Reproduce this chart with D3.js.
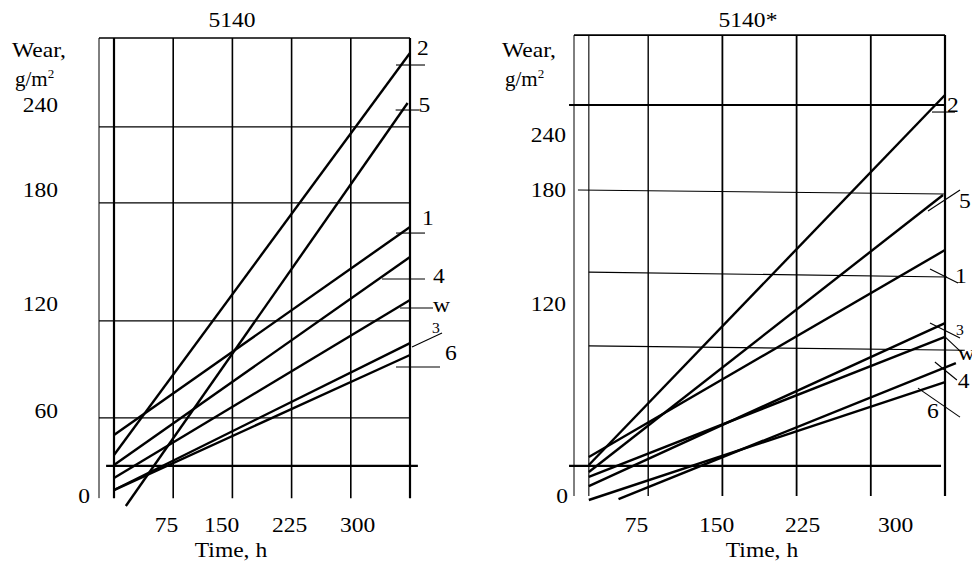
<!DOCTYPE html>
<meta charset="utf-8">
<style>
  body { margin: 0; background: #fff; }
  text { font: 21px "Liberation Serif", "Times New Roman", serif; fill: #000; }
  text.small { font-size: 14px; }
</style>
<body>
<script src="https://cdn.jsdelivr.net/npm/d3@7"></script>
<script>

    // series order: 1, 2, 3, 4, 5, 6, w
    var seriesNames = ["1", "2", "3", "4", "5", "6", "w"];

    // panel 5140 : time (h) and wear (g/m2) at both ends of each line
    var leftStartH = [0, 0, 0, 0, 15, 0, 0];
    var leftEndH   = [375, 375, 375, 375, 372, 375, 375];
    var leftStartW = [43.1, 28.9, 4.2, 21.9, -7.1, 4.2, 12.7];
    var leftEndW   = [160.5, 276.7, 98.1, 144.7, 241.4, 91.4, 122.1];

    // panel 5140*
    var rightStartH = [15, 15, 15, 45, 15, 15, 15];
    var rightEndH   = [375, 375, 375, 386, 373, 375, 375];
    var rightStartW = [24.4, 19.4, 6.2, -1.9, 15.0, -2.5, 11.9];
    var rightEndW   = [148.4, 283.6, 108.1, 83.1, 177.4, 71.2, 99.4];

    // ticks
    var timeTicks = [75, 150, 225, 300];
    var leftWearTicks = [0, 60, 120, 180, 240];
    var rightWearTicks = [0, 120, 180, 240];

    // grid (as printed, the scan is not regular)
    var leftTimeGrid = [-19, 0, 75, 150, 225, 300, 375];
    var rightTimeGrid = [0, 15, 75, 150, 225, 300, 375];
    var leftWearGrid = [287.3, 224.5, 173.2, 110.5, 55.1, 21.2];
    var rightWearGridA = [349, 272.7, 180, 136.8, 93.8, 18.8];   // wear at left end
    var rightWearGridB = [349, 272.7, 177.9, 134.2, 91.1, 18.8]; // wear at right end

    var svg = d3.select("body").append("svg")
        .attr("width", 972)
        .attr("height", 567);

    function widen(sel, k) {
        sel.each(function() {
            var w = this.getComputedTextLength();
            d3.select(this).attr("textLength", w * k).attr("lengthAdjust", "spacingAndGlyphs");
        });
    }

    function drawPanel(p) {
        var g = svg.append("g");
        var x = p.x, y = p.y;

        // vertical grid
        g.selectAll(".vg").data(p.timeGrid).enter().append("line")
            .attr("x1", function(d) { return x(d); })
            .attr("x2", function(d) { return x(d); })
            .attr("y1", y(p.bottom))
            .attr("y2", y(p.top))
            .attr("stroke", "#000")
            .attr("stroke-width", function(d, i) { return p.vWidth[i]; });

        // horizontal grid
        g.selectAll(".hg").data(p.rules).enter().append("line")
            .attr("x1", function(d) { return x(d.h0); })
            .attr("x2", function(d) { return x(d.h1); })
            .attr("y1", function(d) { return y(d.a); })
            .attr("y2", function(d) { return y(d.b); })
            .attr("stroke", "#000")
            .attr("stroke-width", function(d) { return d.w; });

        // series lines
        var series = seriesNames.map(function(name, i) {
            return {name: name, pts: [[p.startH[i], p.startW[i]], [p.endH[i], p.endW[i]]]};
        });
        var line = d3.line()
            .x(function(d) { return x(d[0]); })
            .y(function(d) { return y(d[1]); });

        g.selectAll(".series").data(series).enter().append("path")
            .attr("d", function(d) { return line(d.pts); })
            .attr("fill", "none")
            .attr("stroke", "#000")
            .attr("stroke-width", 2.4);

        // callouts
        series.forEach(function(s) {
            var c = p.callouts[s.name];
            var ex = x(s.pts[1][0]), ey = y(s.pts[1][1]);
            g.append("line")
                .attr("x1", ex + c.l[0]).attr("y1", ey + c.l[1])
                .attr("x2", ex + c.l[2]).attr("y2", ey + c.l[3])
                .attr("stroke", "#000").attr("stroke-width", 1.1);
            var t = g.append("text")
                .attr("x", ex + c.tx).attr("y", ey + c.ty)
                .attr("class", c.small ? "small" : null)
                .text(s.name);
            widen(t, 1.12);
        });

        // y tick labels
        var ya = g.append("g")
            .attr("transform", "translate(" + p.yLabelX + ",0)")
            .call(d3.axisLeft(y).tickValues(p.wearTicks).tickSize(0).tickPadding(0));
        ya.select(".domain").remove();
        ya.selectAll(".tick text").filter(function(d) { return d === 0; }).attr("x", p.zeroShift);
        widen(ya.selectAll(".tick text"), 1.12);

        // x tick labels
        var xa = g.append("g")
            .attr("transform", "translate(0,532)")
            .call(d3.axisBottom(p.xLabel).tickValues(timeTicks).tickSize(0));
        xa.select(".domain").remove();
        xa.selectAll(".tick text").attr("y", 0).attr("dy", null);
        widen(xa.selectAll(".tick text"), 1.12);

        // titles
        widen(g.append("text").attr("x", p.titleX).attr("y", 27)
            .attr("text-anchor", "middle").text(p.title), 1.12);
        widen(g.append("text").attr("x", p.timeX).attr("y", 557)
            .attr("text-anchor", "middle").text("Time, h"), 1.12);
        widen(g.append("text").attr("x", p.wearX).attr("y", 57).text("Wear,"), 1.12);
        var u = g.append("text").attr("x", p.wearX + 3).attr("y", 86);
        u.append("tspan").text("g/m");
        u.append("tspan").attr("dy", -8).style("font-size", "13px").text("2");
    }

    drawPanel({
        title: "5140",
        titleX: 232, timeX: 231, wearX: 12, yLabelX: 58, zeroShift: 32,
        x: d3.scaleLinear().domain([0, 375]).range([114, 410]),
        y: d3.scaleLinear().domain(leftWearTicks).range([496, 411, 304, 190, 105]),
        xLabel: d3.scaleLinear().domain(timeTicks).range([166, 221, 289, 357]),
        wearTicks: leftWearTicks,
        timeGrid: leftTimeGrid,
        vWidth: [1, 2.2, 1.6, 1.6, 1.6, 1.6, 2.2],
        bottom: -1.5, top: leftWearGrid[0],
        rules: leftWearGrid.map(function(v, i) {
            var last = i === leftWearGrid.length - 1;
            return {a: v, b: v, h0: last ? -10 : -19, h1: last ? 385 : 375, w: last ? 2.2 : (i === 0 ? 1.6 : 1.2)};
        }),
        startH: leftStartH, endH: leftEndH, startW: leftStartW, endW: leftEndW,
        callouts: {
            "2": {tx: 7, ty: 2, l: [-14, 12, 15, 12]},
            "5": {tx: 11, ty: 9, l: [-12, 7, 12, 7]},
            "1": {tx: 12, ty: -2, l: [-14, 6, 15, 6]},
            "4": {tx: 23, ty: 26, l: [-28, 22, 15, 22]},
            "w": {tx: 23, ty: 12, l: [-10, 8, 23, 8]},
            "3": {tx: 22, ty: -10, l: [2, 4, 32, -10], small: true},
            "6": {tx: 35, ty: 5, l: [-14, 12, 30, 12]}
        }
    });

    var rightSpans = [[0, 375], [-5, 375], [4, 375], [15, 377], [15, 395], [-5, 371]];
    var rightWidths = [1.6, 2, 1.2, 1.2, 1.2, 2.2];

    drawPanel({
        title: "5140*",
        titleX: 748, timeX: 762, wearX: 502, yLabelX: 566, zeroShift: 2,
        x: d3.scaleLinear().domain([0, 375]).range([574, 945]),
        y: d3.scaleLinear().domain(rightWearTicks).range([496, 304, 190, 135]),
        xLabel: d3.scaleLinear().domain(timeTicks).range([636, 716, 802, 895]),
        wearTicks: rightWearTicks,
        timeGrid: rightTimeGrid,
        vWidth: [1, 1.1, 1.4, 1.8, 1.8, 1.8, 2.2],
        bottom: 0, top: rightWearGridA[0],
        rules: rightWearGridA.map(function(v, i) {
            return {a: v, b: rightWearGridB[i], h0: rightSpans[i][0], h1: rightSpans[i][1], w: rightWidths[i]};
        }),
        startH: rightStartH, endH: rightEndH, startW: rightStartW, endW: rightEndW,
        callouts: {
            "2": {tx: 2, ty: 17, l: [-13, 17, 10, 17]},
            "5": {tx: 16, ty: 13, l: [-15, 16, 17, -5]},
            "1": {tx: 10, ty: 33, l: [-15, 19, 13, 33]},
            "3": {tx: 11, ty: 12, l: [-15, 0, 15, 15], small: true},
            "w": {tx: 13, ty: 23, l: [0, 0, 17, 16]},
            "4": {tx: 2, ty: 25, l: [-21, -1, 1, 17]},
            "6": {tx: -18, ty: 36, l: [-27, 6, 15, 35]}
        }
    });

</script>
